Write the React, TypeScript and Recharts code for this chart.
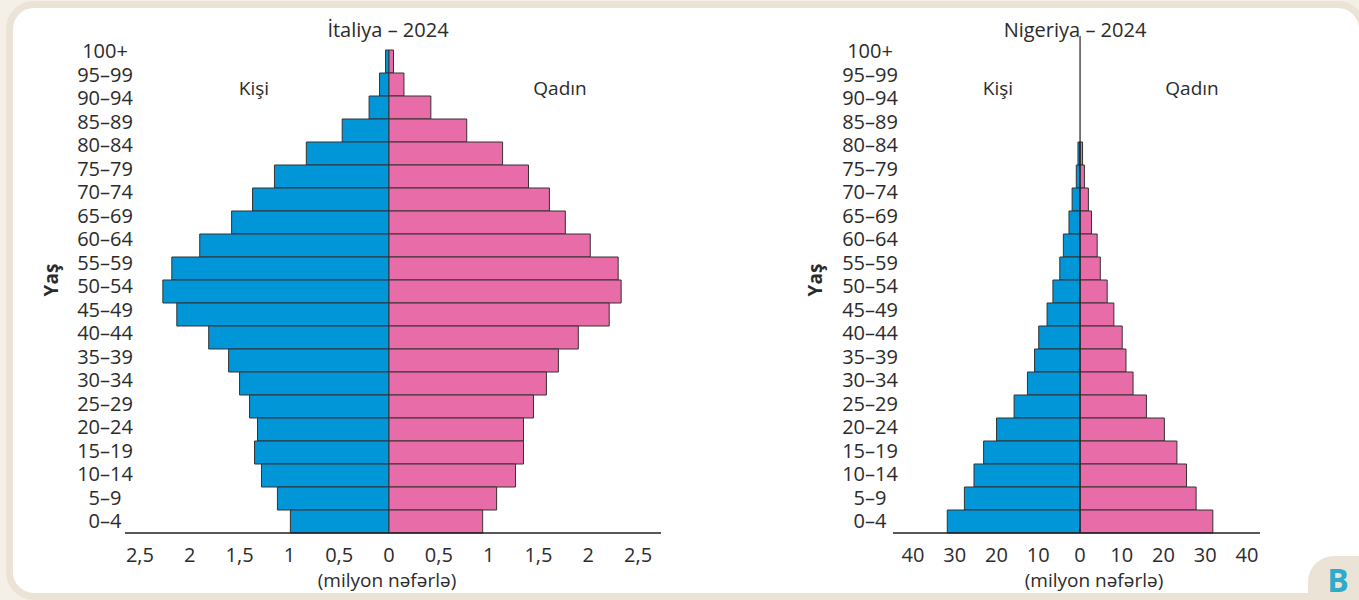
import { Bar, BarChart, ReferenceLine, XAxis, YAxis } from "recharts";

const AGES = [
  "100+", "95–99", "90–94", "85–89", "80–84", "75–79", "70–74",
  "65–69", "60–64", "55–59", "50–54", "45–49", "40–44", "35–39",
  "30–34", "25–29", "20–24", "15–19", "10–14", "5–9", "0–4",
];

// milyon nəfər
const ITALY_MALE = [
  0.035, 0.095, 0.2, 0.47, 0.83, 1.15, 1.37, 1.58, 1.9, 2.18, 2.27,
  2.13, 1.81, 1.61, 1.5, 1.4, 1.32, 1.35, 1.28, 1.12, 0.99,
];
const ITALY_FEMALE = [
  0.045, 0.15, 0.42, 0.78, 1.14, 1.4, 1.61, 1.77, 2.02, 2.3, 2.33,
  2.21, 1.9, 1.7, 1.58, 1.45, 1.35, 1.35, 1.27, 1.08, 0.94,
];
const NIGERIA_MALE = [
  0, 0, 0, 0, 0.5, 0.9, 1.9, 2.65, 4.0, 4.85, 6.5,
  7.9, 9.9, 10.9, 12.6, 15.8, 20.0, 23.1, 25.4, 27.7, 31.8,
];
const NIGERIA_FEMALE = [
  0, 0, 0, 0, 0.6, 1.05, 2.0, 2.75, 4.1, 4.85, 6.5,
  8.1, 10.1, 11.0, 12.7, 15.9, 20.2, 23.2, 25.5, 27.8, 31.8,
];

const ITALY_TICKS = [-2.5, -2, -1.5, -1, -0.5, 0, 0.5, 1, 1.5, 2, 2.5];
const NIGERIA_TICKS = [-40, -30, -20, -10, 0, 10, 20, 30, 40];

const BLUE = "#0096d8";
const PINK = "#e86ca8";
const EDGE = "#333333";
const INK = "#2b2b2b";
const FONT = '"Open Sans", sans-serif';

const rows = (male: number[], female: number[]) =>
  AGES.map((age, i) => ({ age, male: -male[i], female: female[i] }));

const fmt = (v: number) => String(Math.abs(v)).replace(".", ",");

function AgeTick(props: any) {
  const { x, y, payload, index } = props;
  // labels in the source drift a little upward relative to the bars
  const drift = -0.5 * (AGES.length - 1 - index) - 0.8;
  return (
    <text
      x={x}
      y={y + drift}
      textAnchor="middle"
      dominantBaseline="central"
      fill={INK}
      fontSize={20}
      fontFamily={FONT}
    >
      {payload.value}
    </text>
  );
}

function Note({ x, y, children, style }: any) {
  return (
    <div
      style={{
        position: "absolute",
        left: x,
        top: y,
        transform: "translate(-50%, -50%)",
        whiteSpace: "nowrap",
        lineHeight: 1,
        fontFamily: FONT,
        fontSize: 19,
        color: INK,
        ...style,
      }}
    >
      {children}
    </div>
  );
}

type PyramidProps = {
  data: { age: string; male: number; female: number }[];
  left: number;
  width: number;
  top: number;
  padTop: number;
  right: number;
  axisWidth: number;
  labelGap: number;
  domain: [number, number];
  ticks: number[];
  spine?: boolean;
};

function Pyramid(p: PyramidProps) {
  return (
    <div style={{ position: "absolute", left: p.left, top: 0 }}>
      <BarChart
        width={p.width}
        height={600}
        data={p.data}
        layout="vertical"
        stackOffset="sign"
        barCategoryGap={0}
        barGap={0}
        margin={{ top: p.top, right: p.right, bottom: 0, left: 0 }}
      >
        <XAxis
          type="number"
          domain={p.domain}
          ticks={p.ticks}
          interval={0}
          height={67}
          tickFormatter={fmt}
          tickLine={false}
          tickMargin={9}
          axisLine={{ stroke: "#231f20", strokeWidth: 1.5 }}
          tick={{ fill: INK, fontSize: 20, fontFamily: FONT }}
        />
        <YAxis
          type="category"
          dataKey="age"
          width={p.axisWidth}
          interval={0}
          padding={{ top: p.padTop, bottom: 0 }}
          axisLine={false}
          tickLine={false}
          tickMargin={p.labelGap}
          tick={(t: any) => <AgeTick {...t} />}
        />
        <Bar dataKey="male" stackId="p" fill={BLUE} stroke={EDGE} strokeWidth={1} isAnimationActive={false} />
        <Bar dataKey="female" stackId="p" fill={PINK} stroke={EDGE} strokeWidth={1} isAnimationActive={false} />
        {p.spine && <ReferenceLine x={0} stroke="#231f20" strokeWidth={1.2} />}
      </BarChart>
    </div>
  );
}

export default function App() {
  return (
    <div
      style={{
        position: "absolute",
        left: 0,
        top: 0,
        width: 1359,
        height: 600,
        overflow: "hidden",
        background: "#f4f0e8",
      }}
    >
      <div
        style={{
          position: "absolute",
          left: 6,
          top: 1,
          width: 1360,
          height: 599,
          boxSizing: "border-box",
          border: "7px solid #ebe3d6",
          borderRadius: 28,
          background: "#ffffff",
        }}
      />

      <Pyramid
        data={rows(ITALY_MALE, ITALY_FEMALE)}
        left={0}
        width={680}
        top={50}
        padTop={0}
        right={19}
        axisWidth={125}
        labelGap={14}
        domain={[-2.65, 2.73]}
        ticks={ITALY_TICKS}
      />
      <Pyramid
        data={rows(NIGERIA_MALE, NIGERIA_FEMALE)}
        left={700}
        width={659}
        top={36}
        padTop={14}
        right={99}
        axisWidth={193}
        labelGap={17}
        domain={[-44.8, 43.1]}
        ticks={NIGERIA_TICKS}
        spine
      />

      <Note x={388} y={30} style={{ fontSize: 20 }}>İtaliya – 2024</Note>
      <Note x={254} y={88}>Kişi</Note>
      <Note x={560} y={88}>Qadın</Note>
      <Note x={51} y={280} style={{ fontWeight: 700, transform: "translate(-50%, -50%) rotate(-90deg)" }}>Yaş</Note>
      <Note x={387} y={580}>(milyon nəfərlə)</Note>

      <Note x={1075} y={30} style={{ fontSize: 20 }}>Nigeriya – 2024</Note>
      <Note x={998} y={88}>Kişi</Note>
      <Note x={1192} y={88}>Qadın</Note>
      <Note x={815} y={280} style={{ fontWeight: 700, transform: "translate(-50%, -50%) rotate(-90deg)" }}>Yaş</Note>
      <Note x={1094} y={580}>(milyon nəfərlə)</Note>

      <div
        style={{
          position: "absolute",
          left: 1308,
          top: 556,
          width: 80,
          height: 70,
          borderRadius: 26,
          background: "#ebe3d6",
        }}
      />
      <Note x={1338} y={580} style={{ fontSize: 32, fontWeight: 700, color: "#2eaacb" }}>B</Note>
    </div>
  );
}
